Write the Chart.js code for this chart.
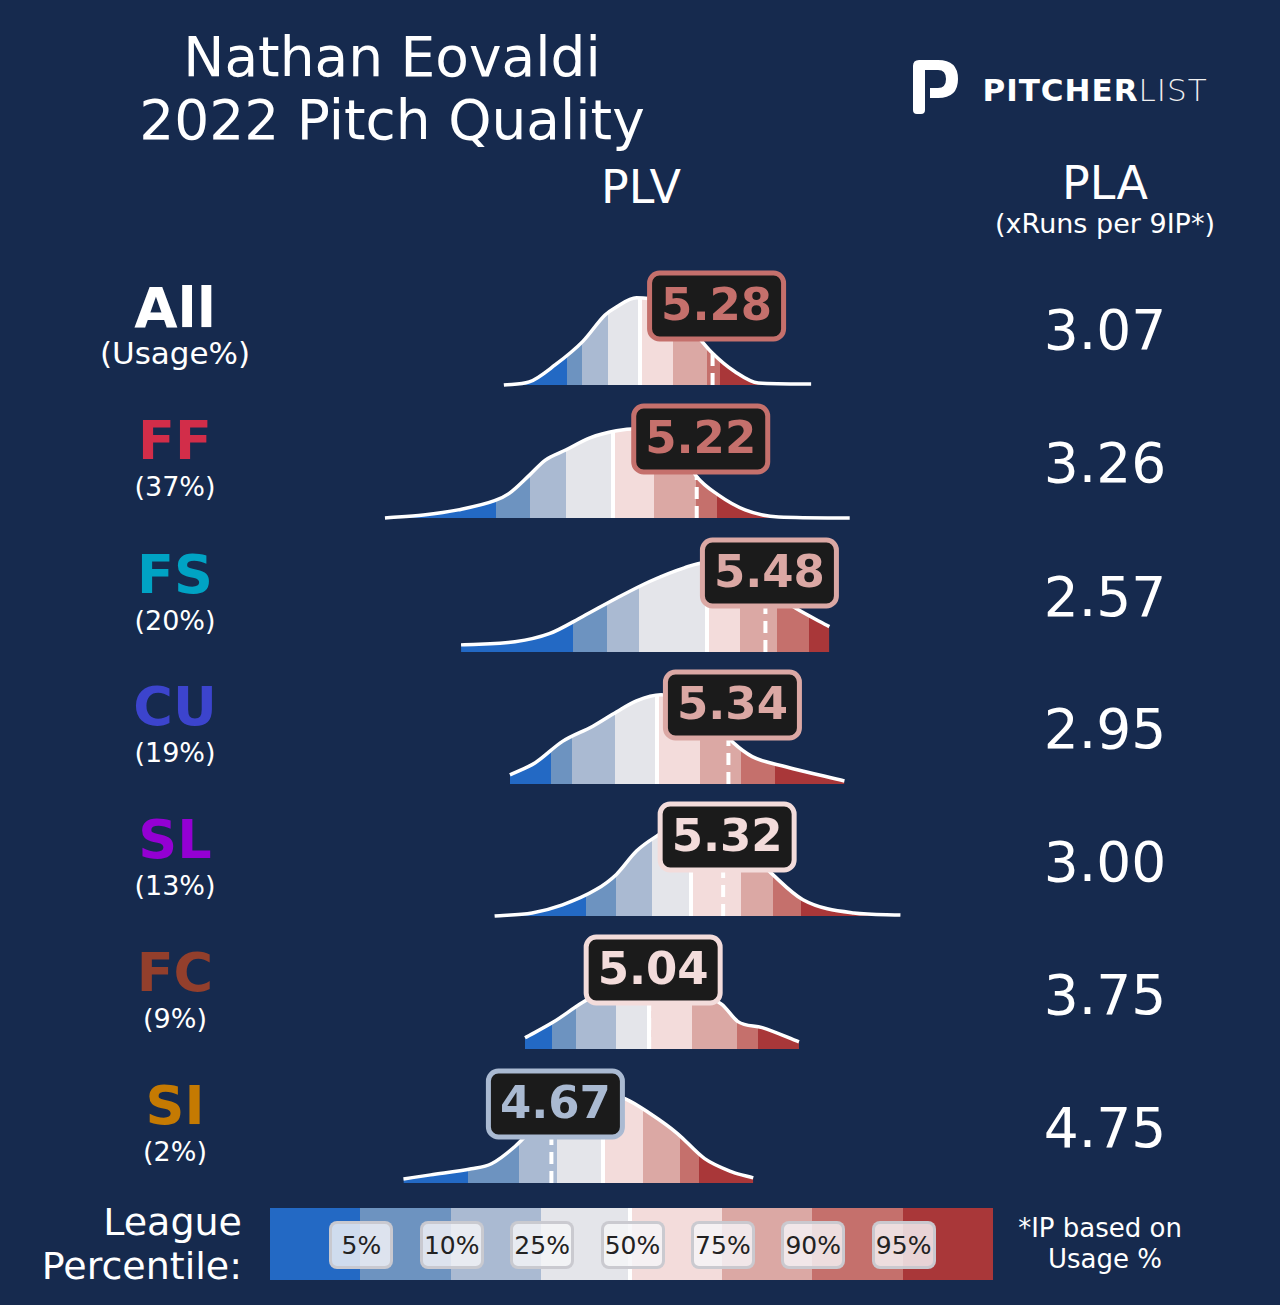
<!DOCTYPE html>
<html><head><meta charset="utf-8">
<script src="https://cdn.jsdelivr.net/npm/chart.js@4.4.0/dist/chart.umd.min.js"></script>
<style>
body{margin:0;background:#162a4e;width:1280px;height:1305px;overflow:hidden;font-family:"DejaVu Sans",sans-serif;color:#fff;position:relative}
.t{position:absolute;white-space:nowrap;transform:translate(-50%,-50%);line-height:1}
canvas{position:absolute;left:0}
.lb{position:absolute;top:1221px;width:58px;height:42px;margin-left:-31px;border-radius:8px;background:rgba(245,245,248,0.82);border:3px solid rgba(200,200,205,0.95);color:#222;font-size:25px;display:flex;align-items:center;justify-content:center}
</style></head><body>
<div class="t" style="left:392px;top:57px;font-size:55px">Nathan Eovaldi</div>
<div class="t" style="left:392px;top:120px;font-size:55px">2022 Pitch Quality</div>
<div class="t" style="left:641px;top:187px;font-size:46px">PLV</div>
<div class="t" style="left:1105px;top:183px;font-size:46px">PLA</div>
<div class="t" style="left:1105px;top:223px;font-size:27px">(xRuns per 9IP*)</div>
<svg style="position:absolute;left:908px;top:58px" width="54" height="58" viewBox="0 0 54 58"><path d="M5 8 Q5 2 11 2 L30 2 Q50 2 50 21 Q50 40 30 40 L22 40 L22 30 L30 30 Q38 30 38 21 Q38 12 30 12 L17 12 L17 52 Q17 56 13 56 L9 56 Q5 56 5 52 Z" fill="#fff"/></svg>
<div class="t" style="left:1095px;top:90px;font-size:31px;letter-spacing:1px"><b>PITCHER</b><span style="font-weight:300;color:#f0f0f0">LIST</span></div>
<div id="rows"></div>
<div style="position:absolute;left:0;top:1200px;width:242px;text-align:right;font-size:38px;line-height:44px">League<br>Percentile:</div>
<div id="legend" style="position:absolute;left:270px;top:1208px;width:723px;height:72px;display:flex"></div>
<div class="t" style="left:1100px;top:1228px;font-size:26px">*IP based on</div>
<div class="t" style="left:1105px;top:1259px;font-size:26px">Usage %</div>
<script>
const pitchNames=["All","FF","FS","CU","SL","FC","SI"];
const usageLabels=["(Usage%)","(37%)","(20%)","(19%)","(13%)","(9%)","(2%)"];
const pitchColors=["#ffffff","#d22d49","#00a3c4","#3c44cd","#9400d3","#933f2c","#c57a02"];
const plvValues=[5.28,5.22,5.48,5.34,5.32,5.04,4.67];
const plaValues=["3.07","3.26","2.57","2.95","3.00","3.75","4.75"];
const percentileLabels=["5%","10%","25%","50%","75%","90%","95%"];
const bandColors=["#2369c4","#6d93c0","#aabad2","#e4e5ea","#f3dcdb","#dba8a4","#c5706c","#a93739"];
const curveX=[
 [4.49,4.586,4.685,4.789,4.873,4.916,4.992,5.069,5.173,5.277,5.365,5.453,5.653],
 [4.040,4.186,4.317,4.455,4.509,4.586,4.647,4.724,4.816,4.916,4.992,5.085,5.146,5.219,5.300,5.403,5.530,5.799],
 [4.328,4.532,4.662,4.789,4.916,5.046,5.173,5.250,5.300,5.430,5.595,5.722],
 [4.513,4.609,4.712,4.827,4.916,4.992,5.085,5.238,5.357,5.430,5.557,5.779],
 [4.455,4.597,4.712,4.839,4.916,4.992,5.058,5.146,5.300,5.430,5.507,5.622,5.814,5.991],
 [4.570,4.674,4.789,4.916,5.046,5.173,5.315,5.376,5.468,5.607],
 [4.110,4.213,4.367,4.443,4.532,4.635,4.739,4.854,4.950,5.046,5.146,5.250,5.353,5.434]];
const curveY=[
 [0,3,20,43,69,77,86,83,63,32,13,2,1],
 [0,3,8,17,24,42,57,67,79,86,88,86,73,41,23,8,1,0],
 [7,10,18,35,53,70,83,88,88,72,43,25],
 [9,21,42,57,71,82,88,74,41,27,17,3],
 [0,3,11,26,41,64,77,89,84,61,41,16,3,1],
 [11,26,46,64,67,61,44,27,21,7],
 [4,8,14,19,36,63,83,89,83,68,49,24,11,5]];
const percentiles=[
 [4.728,4.785,4.885,5.004,5.131,5.257,5.307],
 [4.459,4.589,4.724,4.904,5.058,5.219,5.296],
 [4.751,4.881,5.000,5.257,5.384,5.522,5.645],
 [4.670,4.747,4.912,5.069,5.234,5.388,5.515],
 [4.801,4.916,5.050,5.200,5.388,5.507,5.614],
 [4.674,4.762,4.916,5.039,5.204,5.372,5.453],
 [4.355,4.547,4.693,4.866,5.015,5.158,5.227]];
const baselines=[385,518,652,784,916,1049,1183];
const labelY=[308,441,575,707,840,973,1106];

const legend=document.getElementById('legend');
bandColors.forEach(c=>{const d=document.createElement('div');d.style.cssText='flex:1;background:'+c;legend.appendChild(d);});
const med=document.createElement('div');med.style.cssText='position:absolute;left:358px;top:0;width:4px;height:72px;background:#fff';legend.appendChild(med);
percentileLabels.forEach((p,i)=>{const d=document.createElement('div');d.className='lb';d.style.left=(270+723*(i+1)/8)+'px';d.textContent=p;document.body.appendChild(d);});

const rows=document.getElementById('rows');
pitchNames.forEach((n,i)=>{
  const a=document.createElement('div');a.className='t';a.style.cssText=`left:175px;top:${labelY[i]}px;font-size:${i?54:56}px;font-weight:bold;color:${pitchColors[i]}`;a.textContent=n;rows.appendChild(a);
  const b=document.createElement('div');b.className='t';b.style.cssText=`left:175px;top:${labelY[i]+45}px;font-size:${i?27:31}px`;b.textContent=usageLabels[i];rows.appendChild(b);
  const c=document.createElement('div');c.className='t';c.style.cssText=`left:1105px;top:${labelY[i]+22}px;font-size:55px`;c.textContent=plaValues[i];rows.appendChild(c);
  const cv=document.createElement('canvas');cv.width=1280;cv.height=130;cv.style.top=(baselines[i]-128)+'px';cv.style.width='1280px';cv.style.height='130px';rows.appendChild(cv);
  makeChart(cv,i);
});

function makeChart(cv,i){
  const pts=curveX[i].map((x,k)=>({x:x,y:curveY[i][k]}));
  const pc=percentiles[i];
  const bandIdx=pc.filter(p=>p<plvValues[i]).length;
  const lblColor=bandColors[bandIdx];
  const overlay={id:'ov'+i,afterDatasetsDraw(chart){
    const ctx=chart.ctx,xs=chart.scales.x,ys=chart.scales.y;
    const meta=chart.getDatasetMeta(0).data;
    const px=xs.getPixelForValue(plvValues[i]);
    let top=ys.getPixelForValue(0);
    for(let k=0;k<meta.length-1;k++){if(meta[k].x<=px&&meta[k+1].x>=px){const t=(px-meta[k].x)/(meta[k+1].x-meta[k].x);top=meta[k].y+t*(meta[k+1].y-meta[k].y);}}
    ctx.save();ctx.strokeStyle='#fff';ctx.lineWidth=4;ctx.setLineDash([12,7]);
    ctx.beginPath();ctx.moveTo(px,ys.getPixelForValue(0));ctx.lineTo(px,top);ctx.stroke();ctx.setLineDash([]);
    const cx=px+4,cy=ys.getPixelForValue(0)-79,w=134,h=66;
    ctx.beginPath();ctx.roundRect(cx-w/2,cy-h/2,w,h,10);ctx.fillStyle='#1b1b1b';ctx.fill();ctx.lineWidth=5;ctx.strokeStyle=lblColor;ctx.stroke();
    ctx.fillStyle=lblColor;ctx.font='bold 45px "DejaVu Sans"';ctx.textAlign='center';ctx.textBaseline='middle';ctx.fillText(plvValues[i].toFixed(2),cx,cy+2);
    ctx.restore();
  }};
  new Chart(cv,{type:'line',data:{datasets:[{data:pts,borderColor:'#fff',borderWidth:3.5,pointRadius:0,cubicInterpolationMode:'monotone',fill:'origin',
    backgroundColor:(c)=>{const ch=c.chart;if(!ch.chartArea)return '#fff';const xs=ch.scales.x;const W=ch.width;
      const g=ch.ctx.createLinearGradient(0,0,W,0);const f=v=>Math.min(1,Math.max(0,xs.getPixelForValue(v)/W));
      let prev=0;
      for(let k=0;k<8;k++){const end=k<7?f(pc[k]):1;
        g.addColorStop(prev,bandColors[k]);
        if(k===3){const m=end-2/W;g.addColorStop(Math.max(prev,m),bandColors[k]);g.addColorStop(Math.max(prev,m),'#fff');g.addColorStop(Math.min(1,end+2/W),'#fff');g.addColorStop(Math.min(1,end+2/W),bandColors[4]);prev=Math.min(1,end+2/W);continue;}
        g.addColorStop(end,bandColors[k]);prev=end;}
      return g;}}]},
    options:{responsive:false,animation:false,devicePixelRatio:1,layout:{padding:0},events:[],
      plugins:{legend:{display:false},tooltip:{enabled:false}},
      scales:{x:{type:'linear',display:false,min:2.583,max:7.4276},y:{display:false,min:-2,max:126.2}}},
    plugins:[overlay]});
}
</script></body></html>
